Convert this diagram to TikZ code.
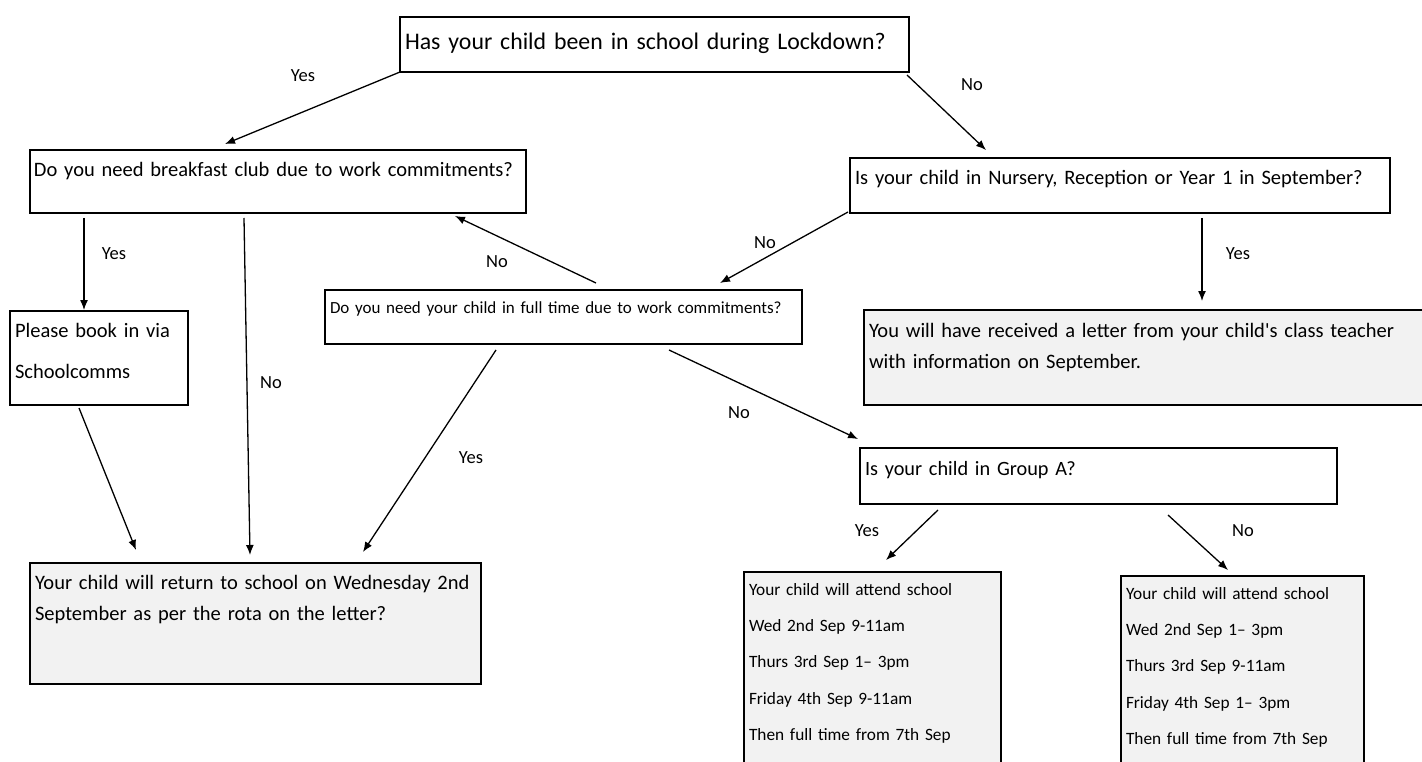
\documentclass[tikz,border=0pt]{standalone}
\usepackage{fontspec}
\setmainfont{Carlito}
\usetikzlibrary{arrows.meta,calc}
\definecolor{boxgray}{RGB}{242,242,242}
\newcommand{\fs}[2]{\fontsize{#1}{#2}\selectfont}

\begin{document}
\begin{tikzpicture}[x=1pt,y=-1pt,
    qbox/.style={draw, line width=2.4pt, anchor=north west, outer sep=0pt,
      inner xsep=5pt, inner ysep=0pt, align=left, font=\fs{20.5}{26}},
    abox/.style={qbox, fill=boxgray},
    arr/.style={-{Latex[length=10pt,width=8pt]}, line width=1.3pt},
    lbl/.style={font=\fs{18.5}{20}, inner sep=0pt}]
  \useasboundingbox (0,0) rectangle (1422,762);

  % questions
  \node[qbox, line width=2.8pt, text width=499pt, text height=33pt, text depth=22pt, font=\fs{23.8}{29}]
    (lockdown) at (400,17) {Has your child been in school during Lockdown?};
  \node[qbox, inner xsep=4pt, text width=488pt, text height=27pt, text depth=36pt]
    (breakfast) at (30,150) {Do you need breakfast club due to work commitments?};
  \node[qbox, text width=530pt, text height=27pt, text depth=28pt]
    (nursery) at (850,158) {Is your child in Nursery, Reception or Year 1 in September?};
  \node[qbox, text width=467pt, text height=23pt, text depth=31pt, font=\fs{17}{21}]
    (fulltime) at (325,290) {Do you need your child in full time due to work commitments?};
  \node[qbox, text width=467pt, text height=27pt, text depth=29pt, font=\fs{20.3}{26}]
    (groupa) at (860,448) {Is your child in Group A?};

  % answers
  \node[qbox, text width=168pt, text height=26pt, text depth=68pt, font=\fs{20.5}{41}]
    (book) at (10,311) {Please book in via\\Schoolcomms};
  \node[abox, text width=550pt, text height=27pt, text depth=68pt, font=\fs{20.5}{32}]
    (letter) at (864,310) {You will have received a letter from your child\textquotesingle s class teacher\\with information on September.};
  \node[abox, text width=441pt, text height=26pt, text depth=95pt, font=\fs{20.5}{31}]
    (return) at (30,563) {Your child will return to school on Wednesday 2nd\\September as per the rota on the letter?};
  \node[abox, text width=247pt, text height=23pt, text depth=200pt, font=\fs{17.3}{36.4}]
    (groupayes) at (744,572) {Your child will attend school\\Wed 2nd Sep 9-11am\\Thurs 3rd Sep 1-- 3pm\\Friday 4th Sep 9-11am\\Then full time from 7th Sep};
  \node[abox, text width=233pt, text height=23pt, text depth=200pt, font=\fs{17.3}{36.4}]
    (groupano) at (1121,576) {Your child will attend school\\Wed 2nd Sep 1-- 3pm\\Thurs 3rd Sep 9-11am\\Friday 4th Sep 1-- 3pm\\Then full time from 7th Sep};

  % connectors
  \draw[arr] (lockdown.south west) -- ($(breakfast.north west)+(195,-6)$);
  \draw[arr] ($(lockdown.south east)+(-2,3)$) -- ($(nursery.north west)+(136,-8)$);
  \draw[arr] ($(breakfast.south west)+(54,5)$) -- ($(book.north west)+(74,-1)$);
  \draw[arr] ($(breakfast.south west)+(214,5)$) -- ($(return.north west)+(220,-8)$);
  \draw[arr] ($(book.south west)+(69,3)$) -- ($(return.north west)+(106,-13)$);
  \draw[arr] ($(fulltime.north west)+(271,-7)$) -- ($(breakfast.south east)+(-71,3)$);
  \draw[arr] ($(nursery.south west)+(-2,-1)$) -- ($(fulltime.north west)+(395,-7)$);
  \draw[arr] ($(nursery.south west)+(352,5)$) -- ($(letter.north west)+(338,-9)$);
  \draw[arr] ($(fulltime.south west)+(171,6)$) -- ($(return.north west)+(333,-11)$);
  \draw[arr] ($(fulltime.south west)+(344,6)$) -- ($(groupa.north west)+(-2,-9)$);
  \draw[arr] ($(groupa.south west)+(78,6)$) -- ($(groupayes.north west)+(142,-12)$);
  \draw[arr] ($(groupa.south west)+(308,11)$) -- ($(groupano.north west)+(107,-6)$);

  % yes / no labels
  \foreach \x/\y/\t [count=\i] in {303/76/Yes, 972/85/No, 114/254/Yes, 271/383/No,
      497/262/No, 765/243/No, 1238/254/Yes, 471/458/Yes, 739/413/No, 867/531/Yes, 1243/531/No}
    \node[lbl] (answer\i) at (\x,\y) {\t};
\end{tikzpicture}
\end{document}
